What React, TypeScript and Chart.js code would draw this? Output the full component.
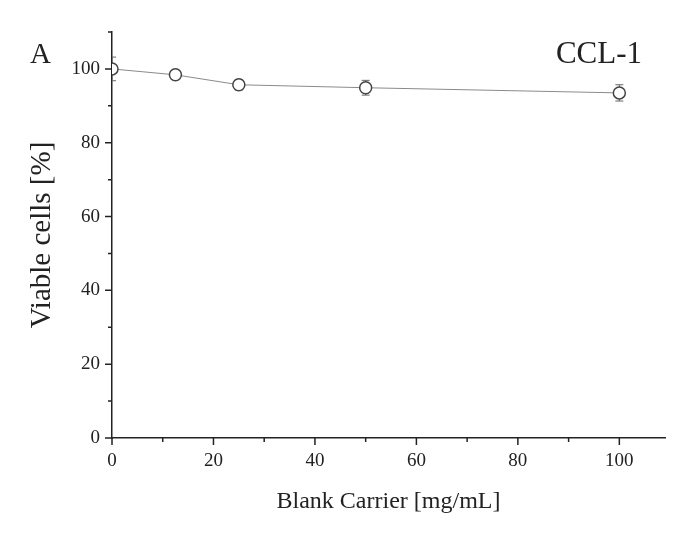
import { useEffect, useRef } from 'react';
import { Chart, registerables } from 'chart.js';

Chart.register(...registerables);

// concentration of blank carrier [mg/mL]
const concentrations = [0, 12.5, 25, 50, 100];
// viable cells [%] and their error bars
const viability = [100, 98.4, 95.7, 94.9, 93.5];
const viabilityErr = [3.2, 1.2, 1.4, 2.0, 2.2];

const xMajorTicks = [0, 20, 40, 60, 80, 100];
const xMinorTicks = [10, 30, 50, 70, 90];
const yMajorTicks = [0, 20, 40, 60, 80, 100];
const yMinorTicks = [10, 30, 50, 70, 90, 110];

const panelLabel = 'A';
const cellLine = 'CCL-1';

const SERIF = '"Liberation Serif", "Times New Roman", serif';
const INK = '#222';

// error bars drawn through the scales, below the markers
const errorBarPlugin = {
  id: 'errorBars',
  beforeDatasetsDraw(chart: any) {
    const { ctx, scales, chartArea } = chart;
    const x = scales.x;
    const y = scales.y;
    ctx.save();
    // clip at the y axis like the original
    ctx.beginPath();
    ctx.rect(chartArea.left, 0, chart.width, chart.height);
    ctx.clip();
    ctx.strokeStyle = '#666';
    ctx.lineWidth = 1;
    concentrations.forEach((c, i) => {
      const px = x.getPixelForValue(c);
      const top = y.getPixelForValue(viability[i] + viabilityErr[i]);
      const bot = y.getPixelForValue(viability[i] - viabilityErr[i]);
      ctx.beginPath();
      ctx.moveTo(px, top);
      ctx.lineTo(px, bot);
      ctx.moveTo(px - 4, top);
      ctx.lineTo(px + 4, top);
      ctx.moveTo(px - 4, bot);
      ctx.lineTo(px + 4, bot);
      ctx.stroke();
    });
    ctx.restore();
  },
};

// outward major/minor ticks like the original plot
const axisTicksPlugin = {
  id: 'axisTicks',
  afterDraw(chart: any) {
    const { ctx, scales, chartArea } = chart;
    ctx.save();
    ctx.strokeStyle = INK;
    ctx.lineWidth = 1.5;
    ctx.beginPath();
    xMajorTicks.forEach((v) => {
      const px = scales.x.getPixelForValue(v);
      ctx.moveTo(px, chartArea.bottom);
      ctx.lineTo(px, chartArea.bottom + 7);
    });
    xMinorTicks.forEach((v) => {
      const px = scales.x.getPixelForValue(v);
      ctx.moveTo(px, chartArea.bottom);
      ctx.lineTo(px, chartArea.bottom + 4);
    });
    yMajorTicks.forEach((v) => {
      const py = scales.y.getPixelForValue(v);
      ctx.moveTo(chartArea.left, py);
      ctx.lineTo(chartArea.left - 7, py);
    });
    yMinorTicks.forEach((v) => {
      const py = scales.y.getPixelForValue(v);
      ctx.moveTo(chartArea.left, py);
      ctx.lineTo(chartArea.left - 4, py);
    });
    ctx.stroke();

    // panel letter and cell line name
    ctx.fillStyle = INK;
    ctx.textBaseline = 'alphabetic';
    ctx.font = `29px ${SERIF}`;
    ctx.textAlign = 'left';
    ctx.fillText(panelLabel, 30, 63);
    ctx.font = `31px ${SERIF}`;
    ctx.textAlign = 'right';
    ctx.fillText(cellLine, 642, 63);
    ctx.restore();
  },
};

export default function App() {
  const canvasRef = useRef<HTMLCanvasElement>(null);
  const chartRef = useRef<Chart | null>(null);

  useEffect(() => {
    document.body.style.margin = '0';
    if (!canvasRef.current) return;
    if (chartRef.current) chartRef.current.destroy();

    chartRef.current = new Chart(canvasRef.current, {
      type: 'line',
      data: {
        datasets: [
          {
            data: concentrations.map((c, i) => ({ x: c, y: viability[i] })),
            borderColor: '#8a8a8a',
            borderWidth: 1,
            pointRadius: 6,
            pointBorderWidth: 1.5,
            pointBorderColor: '#444',
            pointBackgroundColor: '#fff',
            tension: 0,
            clip: { left: 0, top: false, right: false, bottom: false },
          },
        ],
      },
      options: {
        animation: false,
        responsive: true,
        maintainAspectRatio: false,
        layout: { padding: { top: 32, right: 19, left: 0, bottom: 0 } },
        plugins: {
          legend: { display: false },
          tooltip: { enabled: false },
        },
        scales: {
          x: {
            type: 'linear',
            min: 0,
            max: 109,
            afterFit: (scale: any) => {
              scale.height = 95;
            },
            grid: { display: false, drawTicks: false },
            border: { display: true, color: INK, width: 1.5 },
            ticks: {
              stepSize: 20,
              includeBounds: false,
              padding: 12,
              color: INK,
              font: { family: SERIF, size: 19 },
            },
            title: {
              display: true,
              text: 'Blank Carrier [mg/mL]',
              color: INK,
              font: { family: SERIF, size: 24 },
              padding: { top: 0, bottom: 17 },
            },
          },
          y: {
            type: 'linear',
            min: 0,
            max: 110,
            afterFit: (scale: any) => {
              scale.width = 112;
            },
            grid: { display: false, drawTicks: false },
            border: { display: true, color: INK, width: 1.5 },
            ticks: {
              stepSize: 20,
              includeBounds: false,
              padding: 12,
              color: INK,
              font: { family: SERIF, size: 19 },
            },
            title: {
              display: true,
              text: 'Viable cells [%]',
              color: INK,
              font: { family: SERIF, size: 29 },
              padding: { top: 25, bottom: 0 },
            },
          },
        },
      },
      plugins: [errorBarPlugin, axisTicksPlugin],
    });

    return () => {
      if (chartRef.current) {
        chartRef.current.destroy();
        chartRef.current = null;
      }
    };
  }, []);

  return (
    <div style={{ position: 'relative', width: 684, height: 533 }}>
      <canvas ref={canvasRef} />
    </div>
  );
}
